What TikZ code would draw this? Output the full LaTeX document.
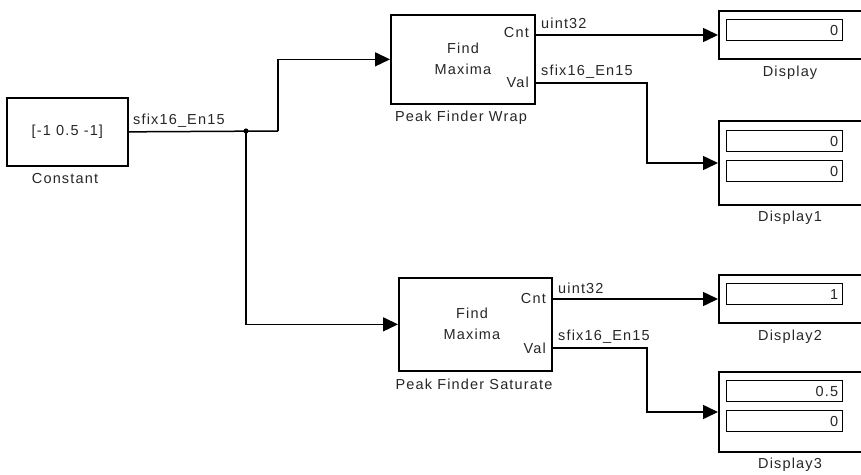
\documentclass[tikz,border=0pt]{standalone}
\usepackage{fontspec}
\setmainfont{Liberation Sans}[LetterSpace=8]
\usetikzlibrary{arrows.meta}
\begin{document}
\begin{tikzpicture}[x=1pt,y=-1pt,
  txt/.style={font=\fontsize{14.5}{17}\selectfont, inner sep=0pt, text=black!85},
  blk/.style={draw, line width=1.7pt, inner sep=0pt, anchor=north west},
  disp/.style={draw, line width=1.7pt, inner sep=0pt, anchor=west, minimum width=146pt},
  fld/.style={draw, line width=1.4pt, inner sep=0pt, anchor=north west, minimum width=116pt, minimum height=21pt},
  num/.style={txt, anchor=east},
  sig/.style={line width=1.5pt, -{Triangle[length=15pt,width=14pt]}},
  wire/.style={line width=1.5pt}
]
\useasboundingbox (0,0) rectangle (861,474);
\clip (0,0) rectangle (861,474);

% blocks
\node[blk, minimum width=121pt, minimum height=68pt, txt] (const) at (6,97) {[-1 0.5 -1]};
\node[txt] (constlbl) at (65,179) {Constant};

\node[blk, minimum width=144pt, minimum height=89pt] (wrap) at (390,14) {};
\node[txt, align=center] (wrapt) at (463,58.5) {Find\\[4pt]Maxima};
\node[txt, anchor=east] (wcntl) at (529,33) {Cnt};
\node[txt, anchor=east] (wvall) at (529,82) {Val};
\node[txt] (wraplbl) at (461,118) {Peak Finder Wrap};

\node[blk, minimum width=153pt, minimum height=93pt] (sat) at (398,277) {};
\node[txt, align=center] (satt) at (472,323.5) {Find\\[4pt]Maxima};
\node[txt, anchor=east] (scntl) at (546,299) {Cnt};
\node[txt, anchor=east] (svall) at (546,348) {Val};
\node[txt] (satlbl) at (474,384) {Peak Finder Saturate};

% displays
\node[disp, minimum height=48pt] (d0) at (718,35) {};
\node[fld] (f0) at (726,19) {};
\node[num] at ([xshift=-5pt]f0.east) {0};
\node[txt] (d0l) at (790,73) {Display};

\node[disp, minimum height=84pt] (d1) at (718,163) {};
\node[fld] (f1a) at (726,130) {};
\node[fld] (f1b) at (726,160) {};
\node[num] at ([xshift=-5pt]f1a.east) {0};
\node[num] at ([xshift=-5pt]f1b.east) {0};
\node[txt] (d1l) at (790,218) {Display1};

\node[disp, minimum height=48pt] (d2) at (718,299) {};
\node[fld] (f2) at (726,283) {};
\node[num] at ([xshift=-5pt]f2.east) {1};
\node[txt] (d2l) at (790,337) {Display2};

\node[disp, minimum height=80pt] (d3) at (718,412) {};
\node[fld] (f3a) at (726,380) {};
\node[fld] (f3b) at (726,410) {};
\node[num] at ([xshift=-5pt]f3a.east) {0.5};
\node[num] at ([xshift=-5pt]f3b.east) {0};
\node[txt] (d3l) at (790,465) {Display3};

% ports and bends
\coordinate (jn) at (246,131);
\coordinate (b1) at (278,131);
\coordinate (wcnt) at (534,35);
\coordinate (wval) at (534,83);
\coordinate (scnt) at (551,299);
\coordinate (sval) at (551,348);
\coordinate (b2) at (647,83);
\coordinate (b3) at (647,348);

% connectors
\draw[wire] (const.east) -- (b1);
\draw[sig] (b1) |- (wrap.west);
\draw[sig] (jn) |- (sat.west);
\fill (jn) circle (2.6pt);
\draw[sig] (wcnt) -- (d0.west);
\draw[sig] (wval) -- (b2) |- (d1.west);
\draw[sig] (scnt) -- (d2.west);
\draw[sig] (sval) -- (b3) |- (d3.west);

% signal labels
\node[txt, anchor=west] (s0) at (133,121) {sfix16\_En15};
\node[txt, anchor=west] (s1) at (541,23) {uint32};
\node[txt, anchor=west] (s2) at (541,72) {sfix16\_En15};
\node[txt, anchor=west] (s3) at (558,288) {uint32};
\node[txt, anchor=west] (s4) at (558,337) {sfix16\_En15};
\end{tikzpicture}
\end{document}
